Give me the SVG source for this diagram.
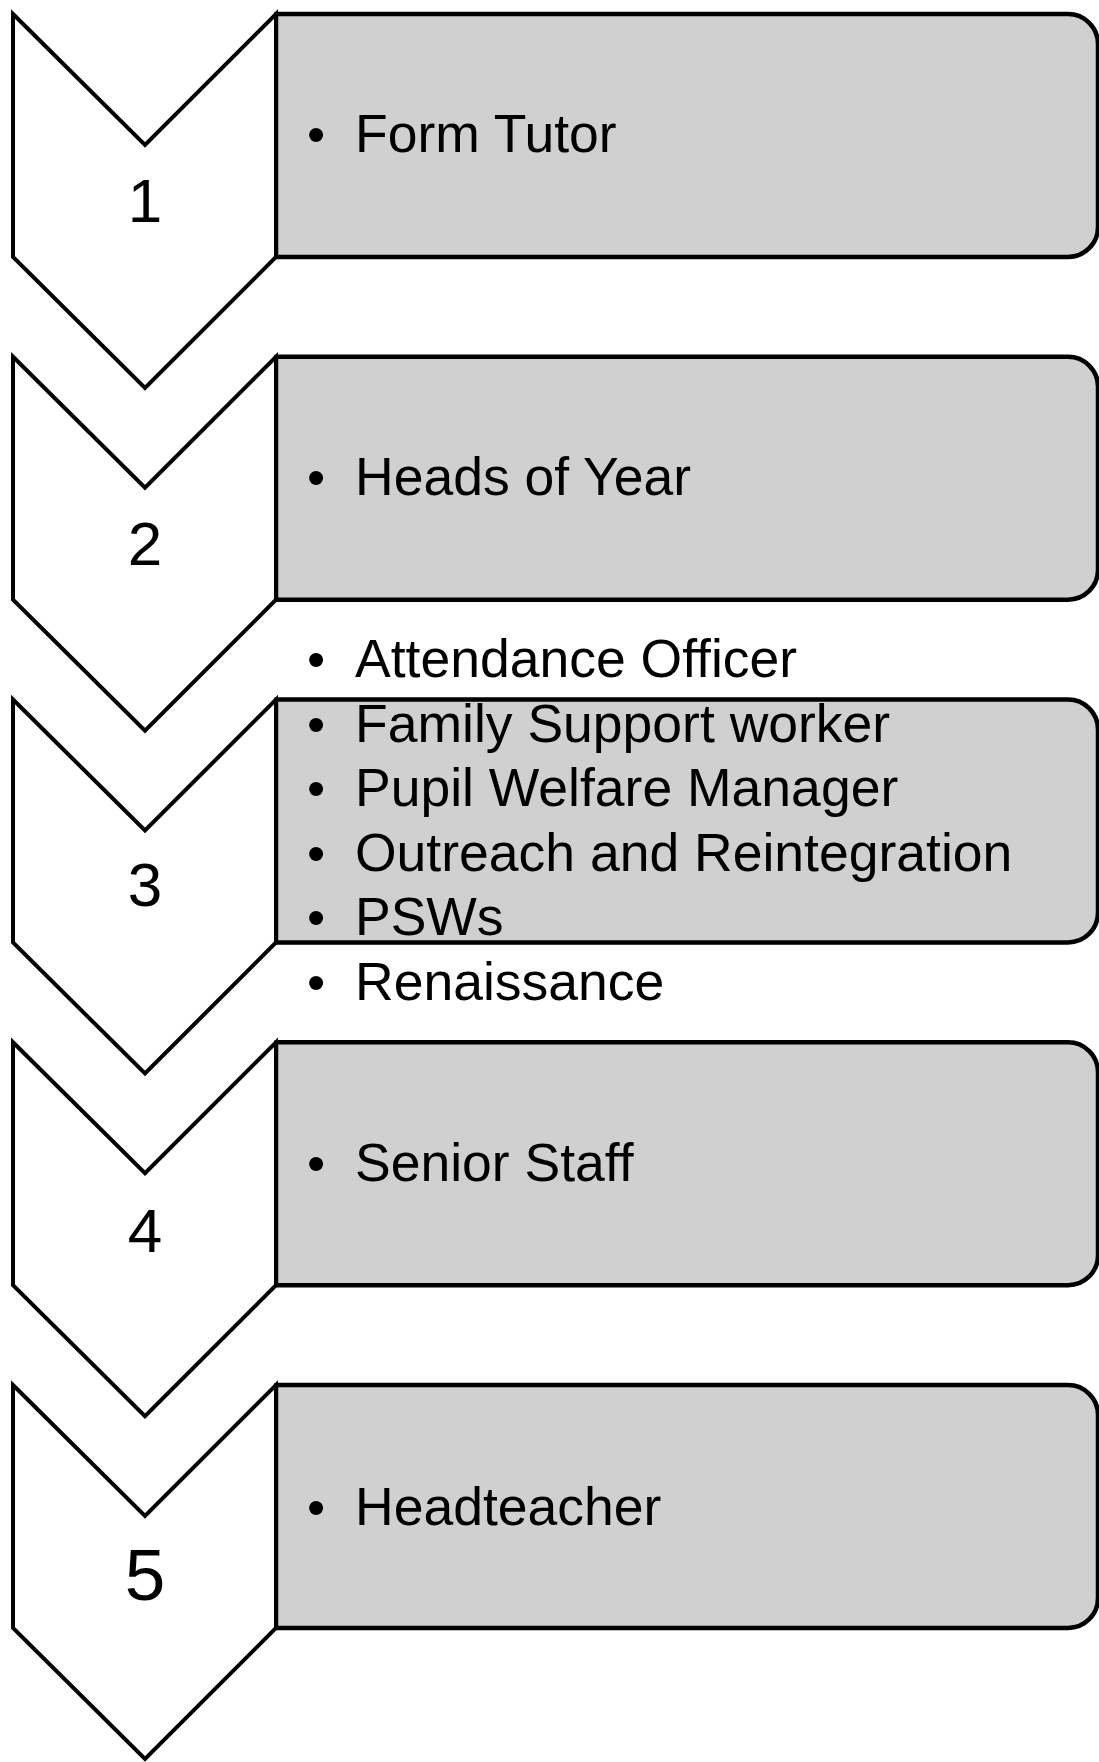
<svg xmlns="http://www.w3.org/2000/svg" width="1099" height="1762" viewBox="0 0 1099 1762">
<style>
.chev{fill:#ffffff;stroke:#000000;stroke-width:4;stroke-linejoin:miter}
.box{fill:#d0d0d0;stroke:#000000;stroke-width:4.5;stroke-linejoin:round}
.num{font-family:"Liberation Sans",Arial,sans-serif;font-size:62px;fill:#000;text-anchor:middle}
.txt{font-family:"Liberation Sans",Arial,sans-serif;font-size:53.5px;fill:#000}
.bul{font-family:"Liberation Sans",Arial,sans-serif;font-size:52px;fill:#000;text-anchor:middle}
</style>
<rect width="1099" height="1762" fill="#ffffff"/>
<g id="connectors"></g>
<g id="step1">
<path class="box" d="M276,14 H1068 A30,30 0 0 1 1098,44 V227 A30,30 0 0 1 1068,257 H276 Z"/>
<path class="chev" d="M13,14 L145,145 L276,14 V257 L145,388 L13,257 Z"/>
<text class="num" x="145" y="222">1</text>
<text class="bul" x="316" y="152">•</text>
<text class="txt" x="355" y="152">Form Tutor</text>
</g>
<g id="step2">
<path class="box" d="M276,356.75 H1068 A30,30 0 0 1 1098,386.75 V569.75 A30,30 0 0 1 1068,599.75 H276 Z"/>
<path class="chev" d="M13,356.75 L145,487.75 L276,356.75 V599.75 L145,730.75 L13,599.75 Z"/>
<text class="num" x="145" y="565">2</text>
<text class="bul" x="316" y="495">•</text>
<text class="txt" x="355" y="495">Heads of Year</text>
</g>
<g id="step3">
<path class="box" d="M276,699.5 H1068 A30,30 0 0 1 1098,729.5 V912.5 A30,30 0 0 1 1068,942.5 H276 Z"/>
<path class="chev" d="M13,699.5 L145,830.5 L276,699.5 V942.5 L145,1073.5 L13,942.5 Z"/>
<text class="num" x="145" y="906">3</text>
<text class="bul" x="316" y="677">•</text>
<text class="txt" x="355" y="677">Attendance Officer</text>
<text class="bul" x="316" y="741.6">•</text>
<text class="txt" x="355" y="741.6">Family Support worker</text>
<text class="bul" x="316" y="806.2">•</text>
<text class="txt" x="355" y="806.2">Pupil Welfare Manager</text>
<text class="bul" x="316" y="870.8">•</text>
<text class="txt" x="355" y="870.8">Outreach and Reintegration</text>
<text class="bul" x="316" y="935.4">•</text>
<text class="txt" x="355" y="935.4">PSWs</text>
<text class="bul" x="316" y="1000">•</text>
<text class="txt" x="355" y="1000">Renaissance</text>
</g>
<g id="step4">
<path class="box" d="M276,1042.25 H1068 A30,30 0 0 1 1098,1072.25 V1255.25 A30,30 0 0 1 1068,1285.25 H276 Z"/>
<path class="chev" d="M13,1042.25 L145,1173.25 L276,1042.25 V1285.25 L145,1416.25 L13,1285.25 Z"/>
<text class="num" x="145" y="1252">4</text>
<text class="bul" x="316" y="1181">•</text>
<text class="txt" x="355" y="1181">Senior Staff</text>
</g>
<g id="step5">
<path class="box" d="M276,1385 H1068 A30,30 0 0 1 1098,1415 V1598 A30,30 0 0 1 1068,1628 H276 Z"/>
<path class="chev" d="M13,1385 L145,1516 L276,1385 V1628 L145,1759 L13,1628 Z"/>
<text class="num" x="145" y="1600" style="font-size:73px">5</text>
<text class="bul" x="316" y="1525">•</text>
<text class="txt" x="355" y="1525">Headteacher</text>
</g>
</svg>
